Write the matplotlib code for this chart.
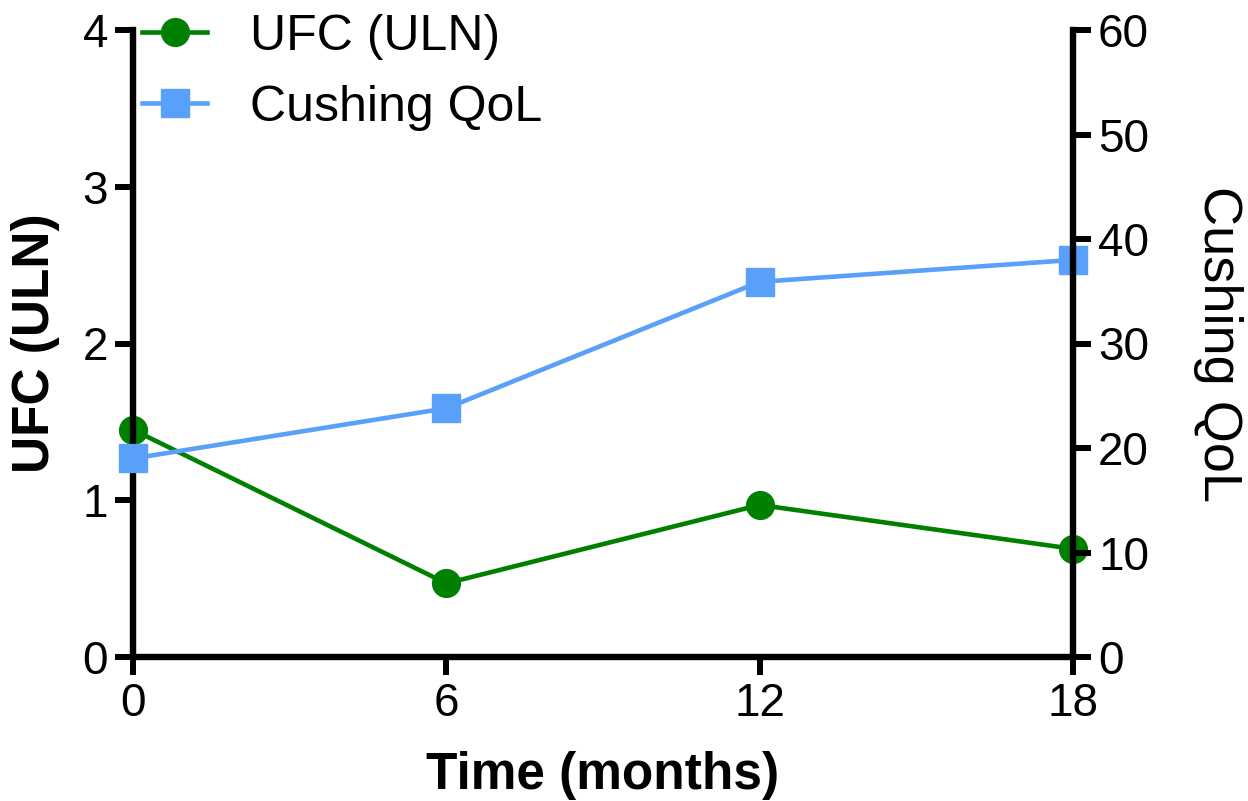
import matplotlib
matplotlib.use("Agg")
import matplotlib.pyplot as plt

plt.rcParams['font.family'] = ['Liberation Sans', 'DejaVu Sans']

# data
months = [0, 6, 12, 18]
ufc_uln = [1.45, 0.47, 0.97, 0.69]
cushing_qol = [19.0, 23.8, 35.9, 38.0]

x_ticks = [0, 6, 12, 18]
left_ticks = [0, 1, 2, 3, 4]
right_ticks = [0, 10, 20, 30, 40, 50, 60]

green = '#008000'
blue = '#58A0FA'

fig = plt.figure(figsize=(12.48, 8.01), dpi=100)
ax = fig.add_axes([133 / 1248, 1 - 657 / 801, 940 / 1248, 627 / 801])
ax2 = ax.twinx()

l1, = ax.plot(months, ufc_uln, color=green, lw=3.3, marker='o', ms=20,
              clip_on=False, label='UFC (ULN)')
l2, = ax2.plot(months, cushing_qol, color=blue, lw=3.3, marker='s', ms=20,
               clip_on=False, label='Cushing QoL')

ax.set_xlim(0, 18)
ax.set_ylim(0, 4)
ax2.set_ylim(0, 60)
ax.set_xticks(x_ticks)
ax.set_yticks(left_ticks)
ax2.set_yticks(right_ticks)

# left spine on ax, right spine on the twin
for s in ['top', 'right']:
    ax.spines[s].set_visible(False)
for s in ['top', 'left', 'bottom']:
    ax2.spines[s].set_visible(False)
for a in (ax, ax2):
    for s in a.spines.values():
        s.set_linewidth(4.6)

ax.tick_params(axis='x', direction='out', length=13, width=4.3, labelsize=33, pad=5)
ax.tick_params(axis='y', direction='out', length=13, width=4.3, labelsize=33, pad=5)
ax2.tick_params(axis='y', direction='out', length=13, width=4.3, labelsize=33, pad=5)

ax.set_xlabel('Time (months)', fontsize=37, fontweight='bold', labelpad=18)
ax.set_ylabel('UFC (ULN)', fontsize=37, fontweight='bold', labelpad=16)
ax2.set_ylabel('Cushing QoL', fontsize=39, rotation=270, labelpad=68)

ax2.legend(handles=[l1, l2], loc='upper left', bbox_to_anchor=(142 / 1248, 0.983),
           bbox_transform=fig.transFigure, frameon=False, fontsize=36,
           handlelength=1.3, handletextpad=0.85, labelspacing=0.5, borderpad=0,
           borderaxespad=0)

fig.savefig('out.png', dpi=100)
